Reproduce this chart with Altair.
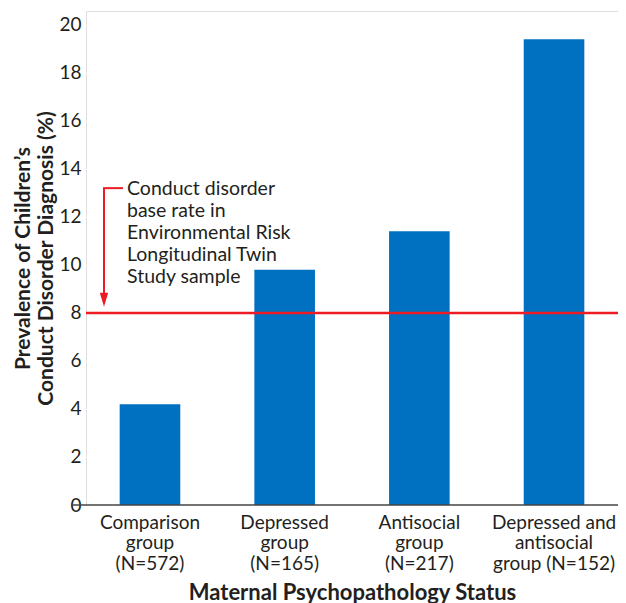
import altair as alt
import pandas as pd

groups = ["Comparison|group|(N=572)", "Depressed|group|(N=165)",
          "Antisocial|group|(N=217)", "Depressed and|antisocial|group (N=152)"]
prevalence = [4.2, 9.8, 11.4, 19.4]
base_rate = 8
y_ticks = [0, 2, 4, 6, 8, 10, 12, 14, 16, 18, 20]
note_lines = ["Conduct disorder", "base rate in", "Environmental Risk",
              "Longitudinal Twin", "Study sample"]

W, H = 532, 494
FONT = "Lato"
TXT = "#231f20"
RED = "#ed1c24"

df = pd.DataFrame({"group": groups, "prev": prevalence})

x = alt.X("group:N", sort=None, title="Maternal Psychopathology Status",
          scale=alt.Scale(paddingInner=0.55, paddingOuter=0.25),
          axis=alt.Axis(labelExpr="split(datum.label, '|')", labelAngle=0,
                        labelLineHeight=20.5, labelBaseline="top", labelPadding=8,
                        labelFontSize=19, titleFontSize=22, titleFontWeight="bold",
                        titlePadding=9, domain=False, ticks=False,
                        labelColor=TXT, titleColor=TXT, labelFont=FONT, titleFont=FONT))
y = alt.Y("prev:Q", title=["Prevalence of Children’s", "Conduct Disorder Diagnosis (%)"],
          scale=alt.Scale(domain=[0, 20.58], nice=False),
          axis=alt.Axis(values=y_ticks, grid=True, gridColor="white", gridWidth=1.5,
                        domain=False, ticks=False, labelPadding=5, labelFontSize=19,
                        titleFontSize=21, titleFontWeight="bold", titlePadding=2,
                        titleLineHeight=23,
                        labelColor=TXT, titleColor=TXT, labelFont=FONT, titleFont=FONT))

bars = alt.Chart(df).mark_bar(color="#0070c0").encode(x=x, y=y)

base = alt.Chart(pd.DataFrame({"v": [base_rate]})).mark_rule(
    color=RED, strokeWidth=2.5).encode(y=alt.Y("v:Q"))

zero = alt.Chart(pd.DataFrame({"v": [0]})).mark_rule(
    color="#444", strokeWidth=1.5).encode(
    y=alt.Y("v:Q"), x=alt.value(-15), x2=alt.value(W))

arrow_v = alt.Chart(pd.DataFrame({"a": [13.2], "b": [8.6]})).mark_rule(
    color=RED, strokeWidth=2).encode(
    y=alt.Y("a:Q"), y2="b:Q", x=alt.value(18))
arrow_h = alt.Chart(pd.DataFrame({"a": [13.2]})).mark_rule(
    color=RED, strokeWidth=2).encode(
    y=alt.Y("a:Q"), x=alt.value(17), x2=alt.value(37))
arrow_head = alt.Chart(pd.DataFrame({"a": [8.55]})).mark_point(
    shape="M-0.6,-1L0.6,-1L0,1Z", filled=True, color=RED, opacity=1, size=196,
    strokeWidth=0).encode(y=alt.Y("a:Q"), x=alt.value(18))

note = alt.Chart(pd.DataFrame({"a": [13.55]})).mark_text(
    text=note_lines, align="left", baseline="top", font=FONT, fontSize=19.5,
    lineHeight=22, color=TXT).encode(y=alt.Y("a:Q"), x=alt.value(41))

chart = alt.layer(bars, zero, base, arrow_v, arrow_h, arrow_head, note).properties(
    width=W, height=H,
    autosize=alt.AutoSizeParams(type="none"),
    padding={"left": 78, "top": 3, "right": 0, "bottom": 98},
).configure_view(fill="#dcdddf", stroke=None).configure(background="white")

chart.save("out.html", embed_options={"renderer": "svg", "actions": False})
